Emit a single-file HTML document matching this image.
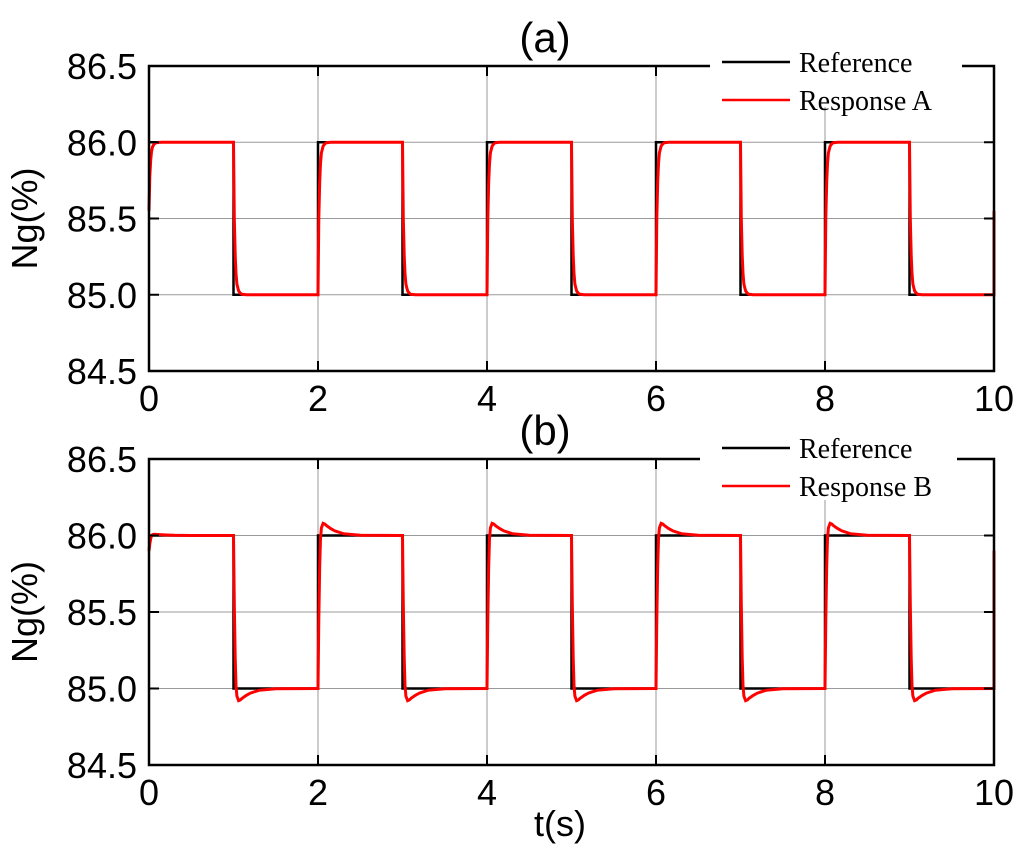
<!DOCTYPE html>
<html><head><meta charset="utf-8"><style>
body{margin:0;background:#fff;}
svg text{font-family:"Liberation Sans",Arial,sans-serif;}
</style></head><body>
<svg id="chart" width="1024" height="851" xmlns="http://www.w3.org/2000/svg"></svg>
<script>
const xTicks=[0,2,4,6,8,10];
const yTicks=[84.5,85.0,85.5,86.0,86.5];
const yTickLabels=["84.5","85.0","85.5","86.0","86.5"];
const switchTimes=[0,1,2,3,4,5,6,7,8,9,10];
const refLevels=[86,85,86,85,86,85,86,85,86,85,86];
const respTime=[0,0.01,0.02,0.03,0.04,0.06,0.08,0.1,0.15,0.2,0.3,0.5,1.0];
const respAProgress=[0,0.5,0.74,0.86,0.93,0.975,0.99,0.997,1,1,1,1,1];
const respBProgress=[0,0.45,0.8,0.98,1.05,1.08,1.075,1.065,1.045,1.03,1.012,1.002,1.0];
const startLevels=[85.55,85.9];
const panels=[
 {name:"a",top:66,bottom:371,title:"(a)",label:"Response A",prog:respAProgress,legY:62,legX0:710,legX1:962},
 {name:"b",top:459,bottom:765,title:"(b)",label:"Response B",prog:respBProgress,legY:448,legX0:700,legX1:957}
];
const L=149,R=994;
const svg=document.getElementById('chart');
const NS="http://www.w3.org/2000/svg";
function mk(tag,attrs,parent){const e=document.createElementNS(NS,tag);for(const k in attrs)e.setAttribute(k,attrs[k]);(parent||svg).appendChild(e);return e;}
const xs=t=>L+(t-0)/(10-0)*(R-L);
panels.forEach((p,pi)=>{
 const ys=v=>p.bottom-(v-84.5)/(86.5-84.5)*(p.bottom-p.top);
 const g=mk('g',{});
 
 
 xTicks.forEach(t=>{const l=mk('line',{x1:xs(t),x2:xs(t),y1:p.top,y2:p.bottom,stroke:'#999','stroke-width':1},g);
  });
 yTicks.forEach(v=>{const l=mk('line',{x1:L,x2:R,y1:ys(v),y2:ys(v),stroke:'#999','stroke-width':1},g);
  });
 let d='';
 for(let i=0;i<switchTimes.length-1;i++){const t0=switchTimes[i],t1=switchTimes[i+1],v=refLevels[i];
  d+=(i==0?'M':'L')+xs(t0)+','+ys(v)+' L'+xs(t1)+','+ys(v)+' ';}
 const ref=mk('path',{d:d,fill:'none',stroke:'#000','stroke-width':2.5},g);
 
 let d2='';let prev=startLevels[pi];
 for(let i=0;i<switchTimes.length-1;i++){const t0=switchTimes[i],t1=switchTimes[i+1],target=refLevels[i];
  for(let j=0;j<respTime.length;j++){const t=t0+respTime[j];if(t>t1)break;
   const v=prev+(target-prev)*p.prog[j];d2+=(d2?'L':'M')+xs(t).toFixed(1)+','+ys(v).toFixed(1)+' ';}
  prev=target;}
 d2+='L'+xs(10)+','+ys(startLevels[pi]);
 const resp=mk('path',{d:d2,fill:'none',stroke:'#f00','stroke-width':3},g);
 
 const fr=mk('rect',{x:L,y:p.top,width:R-L,height:p.bottom-p.top,fill:'none',stroke:'#000','stroke-width':2.5},g);
 
 xTicks.forEach(t=>{const l=mk('line',{x1:xs(t),x2:xs(t),y1:p.top,y2:p.top+10,stroke:'#000','stroke-width':2},g);
  const l2=mk('line',{x1:xs(t),x2:xs(t),y1:p.bottom,y2:p.bottom-10,stroke:'#000','stroke-width':2},g);
  const tx=mk('text',{x:xs(t),y:p.bottom+40,'text-anchor':'middle','font-size':36},g);tx.textContent=t;
  });
 yTicks.forEach((v,i)=>{const l=mk('line',{x1:L,x2:L+10,y1:ys(v),y2:ys(v),stroke:'#000','stroke-width':2},g);
  const l2=mk('line',{x1:R-10,x2:R,y1:ys(v),y2:ys(v),stroke:'#000','stroke-width':2},g);
  const tx=mk('text',{x:L-12,y:ys(v)+13,'text-anchor':'end','font-size':36},g);tx.textContent=yTickLabels[i];
  });
 const yl=mk('text',{x:0,y:0,'text-anchor':'middle','font-size':36,transform:`translate(37,${(p.top+p.bottom)/2}) rotate(-90)`},g);yl.textContent='Ng(%)';
 
 const ti=mk('text',{x:545,y:p.top-14,'text-anchor':'middle','font-size':42},g);ti.textContent=p.title;
 
 const lg=mk('g',{},g);
 mk('rect',{x:p.legX0,y:p.top-3,width:p.legX1-p.legX0,height:44,fill:'#fff'},lg);
 mk('line',{x1:722,x2:790,y1:p.legY,y2:p.legY,stroke:'#000','stroke-width':2.5},lg);
 const t1=mk('text',{x:799,y:p.legY+10,'font-size':28,style:'font-family:"Liberation Serif",serif'},lg);t1.textContent='Reference';
 
 mk('line',{x1:722,x2:790,y1:p.legY+38,y2:p.legY+38,stroke:'#f00','stroke-width':2.5},lg);
 const t2=mk('text',{x:799,y:p.legY+48,'font-size':28,style:'font-family:"Liberation Serif",serif'},lg);t2.textContent=p.label;
 
});
const xl=mk('text',{x:560,y:836,'text-anchor':'middle','font-size':36});xl.textContent='t(s)';


</script>
</body></html>
